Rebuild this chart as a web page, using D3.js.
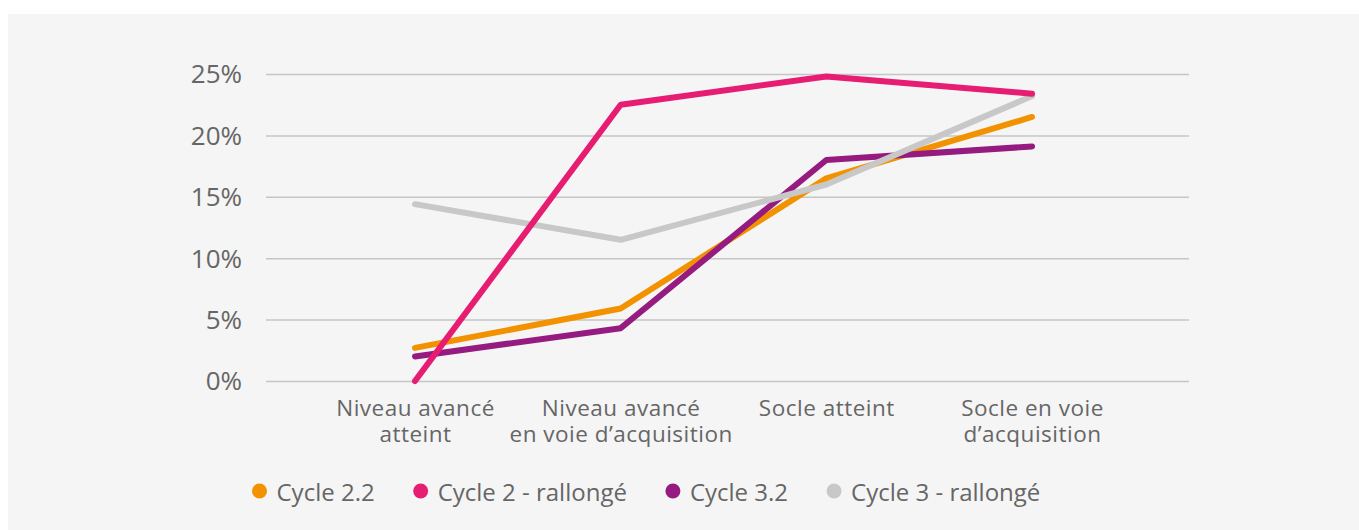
<!DOCTYPE html>
<html>
<head>
<meta charset="utf-8">
<script src="https://cdn.jsdelivr.net/npm/d3@7"></script>
<style>
  html, body { margin: 0; padding: 0; background: #ffffff; }
  svg { display: block; }
  text { font-family: "Open Sans", "Noto Sans", sans-serif; fill: #666666; }
</style>
</head>
<body>
<svg id="chart" width="1359" height="530"></svg>
<script>
const categories = ["Niveau avancé\natteint", "Niveau avancé\nen voie d’acquisition", "Socle atteint", "Socle en voie\nd’acquisition"];
const seriesNames = ["Cycle 2.2", "Cycle 2 - rallongé", "Cycle 3.2", "Cycle 3 - rallongé"];
const cycle22 = [0.027, 0.059, 0.165, 0.215];
const cycle2r = [0.000, 0.225, 0.248, 0.234];
const cycle32 = [0.020, 0.043, 0.180, 0.191];
const cycle3r = [0.144, 0.115, 0.160, 0.232];
const yTicks = [0, 0.05, 0.10, 0.15, 0.20, 0.25];
const colors = ["#F39200", "#E71D73", "#951B81", "#C8C8C8"];

const series = [cycle22, cycle2r, cycle32, cycle3r];

const svg = d3.select("#chart");
svg.append("rect").attr("x", 8).attr("y", 14).attr("width", 1359 - 8).attr("height", 530 - 14).attr("fill", "#f5f5f5");

const gridLeft = 266, gridRight = 1189;
const x = d3.scalePoint().domain(categories).range([415, 1032]);
const y = d3.scaleLinear().domain([0, 0.25]).range([381, 74]);

// Y axis with gridlines
const yAxis = d3.axisLeft(y).tickValues(yTicks).tickFormat(d3.format(".0%"))
  .tickSize(-(gridRight - gridLeft)).tickPadding(24);
const gy = svg.append("g").attr("transform", `translate(${gridLeft},0)`).call(yAxis);
gy.select(".domain").remove();
gy.selectAll(".tick line").attr("stroke", "#c6c6c6").attr("stroke-width", 1.5);
gy.selectAll(".tick text").attr("font-size", 26).attr("fill", "#666").attr("font-family", null).attr("dy", "0.34em");

// X axis labels
const xAxis = d3.axisBottom(x).tickSize(0).tickPadding(0).tickFormat("");
const gx = svg.append("g").attr("transform", `translate(0,${y(0)})`).call(xAxis);
gx.select(".domain").remove();
gx.selectAll(".tick").each(function(d) {
  const g = d3.select(this);
  d.split("\n").forEach((line, i) => {
    g.append("text").attr("text-anchor", "middle").attr("font-size", 22.5)
      .attr("letter-spacing", 0.5).attr("fill", "#666")
      .attr("x", 0).attr("y", 35 + i * 26).text(line);
  });
});

// Lines
const line = d3.line().x((d, i) => x(categories[i])).y(d => y(d));
const drawOrder = [0, 2, 3, 1];
drawOrder.forEach(k => {
  svg.append("path").datum(series[k]).attr("d", line)
    .attr("fill", "none").attr("stroke", colors[k]).attr("stroke-width", 6)
    .attr("stroke-linecap", "round").attr("stroke-linejoin", "round");
});

// Legend
const legend = svg.append("g");
let cx = 259.5;
seriesNames.forEach((name, k) => {
  legend.append("circle").attr("cx", cx).attr("cy", 491).attr("r", 7.5).attr("fill", colors[k]);
  const t = legend.append("text").attr("x", cx + 17).attr("y", 501).attr("font-size", 24).attr("fill", "#666").text(name);
  const w = t.node().getComputedTextLength();
  cx = cx + 17 + w + 46;
});
</script>
</body>
</html>
